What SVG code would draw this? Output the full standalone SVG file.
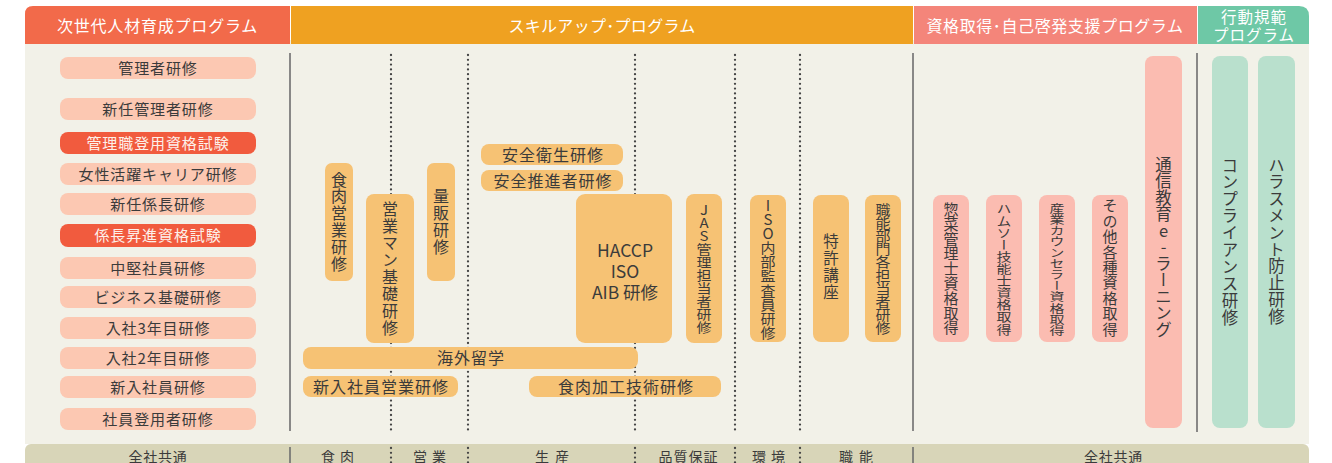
<svg xmlns="http://www.w3.org/2000/svg" width="1332" height="463" viewBox="0 0 1332 463">
<style>
text{font-family:"Noto Sans CJK JP","Noto Sans",sans-serif;fill:#3b3b3b}
.hd{fill:#fff;font-size:16px;text-anchor:middle}
.lp{fill:#fcc8b2}
.rp{fill:#f15b3e}
.or{fill:#f6c274}
.pk{fill:#fbbcb1}
.gr{fill:#b9e0cd}
.lt{font-size:15px;letter-spacing:0.9px;text-anchor:middle}
.wt{fill:#fdf0ea}
.ot{font-size:16px;letter-spacing:1px;text-anchor:middle}
.v{writing-mode:vertical-rl;text-orientation:upright;text-anchor:middle}
.vs{writing-mode:vertical-rl;text-orientation:upright;text-anchor:start}
.solid{stroke:#6e6e6e;stroke-width:1.6;fill:none}
.dot{stroke:#444;stroke-width:2.3;stroke-linecap:round;stroke-dasharray:0 4.8;fill:none}
.bt{font-size:14px;text-anchor:middle}
</style>
<rect x="0" y="0" width="1332" height="463" fill="#ffffff"/>
<!-- panel -->
<rect x="25" y="40" width="1284" height="404" fill="#f2f1e8"/>
<rect x="25" y="444" width="1284" height="30" rx="6" fill="#d8d5b8"/>
<!-- headers -->
<g id="header-jisedai">
<path d="M25,44 V14 Q25,6 33,6 H290 V44 Z" fill="#f26a4a"/>
<text class="hd" x="157.5" y="32" style="letter-spacing:0.8px">次世代人材育成プログラム</text>
</g>
<g id="header-skillup">
<rect x="291" y="6" width="622" height="38" fill="#efa121"/>
<text class="hd" x="602" y="32" style="letter-spacing:0.3px">スキルアップ･プログラム</text>
</g>
<g id="header-shikaku">
<rect x="914" y="6" width="283" height="38" fill="#f4857a"/>
<text class="hd" x="1055" y="32" style="letter-spacing:0.6px">資格取得･自己啓発支援プログラム</text>
</g>
<g id="header-kodo">
<path d="M1198,6 H1299 Q1309,6 1309,16 V44 H1198 Z" fill="#6ec8a6"/>
<text class="hd" x="1254" y="23" style="font-size:15.5px;letter-spacing:1px">行動規範</text>
<text class="hd" x="1254" y="40.5" style="font-size:15.5px;letter-spacing:1px">プログラム</text>
</g>
<!-- connectors / divider lines -->
<g id="connectors">
<line class="solid" x1="290" y1="53" x2="290" y2="431"/>
<line class="solid" x1="913" y1="53" x2="913" y2="431"/>
<line class="solid" x1="1197" y1="53" x2="1197" y2="432"/>
<line class="dot" x1="391" y1="55" x2="391" y2="431"/>
<line class="dot" x1="468" y1="55" x2="468" y2="431"/>
<line class="dot" x1="635" y1="55" x2="635" y2="431"/>
<line class="dot" x1="735" y1="55" x2="735" y2="431"/>
<line class="dot" x1="800" y1="55" x2="800" y2="431"/>
<line class="solid" x1="290" y1="447" x2="290" y2="463"/>
<line class="solid" x1="913" y1="447" x2="913" y2="463"/>
<line class="dot" x1="391" y1="448" x2="391" y2="463"/>
<line class="dot" x1="468" y1="448" x2="468" y2="463"/>
<line class="dot" x1="635" y1="448" x2="635" y2="463"/>
<line class="dot" x1="735" y1="448" x2="735" y2="463"/>
<line class="dot" x1="800" y1="448" x2="800" y2="463"/>
</g>
<!-- left column -->
<g id="n-kanrisha"><rect class="lp" x="60" y="57" width="196" height="22" rx="8"/><text class="lt" x="158" y="73.7">管理者研修</text></g>
<g id="n-shinnin-kanrisha"><rect class="lp" x="60" y="98" width="196" height="22" rx="8"/><text class="lt" x="158" y="114.7">新任管理者研修</text></g>
<g id="n-kanrishoku-shiken"><rect class="rp" x="60" y="132" width="196" height="22" rx="8"/><text class="lt wt" x="158" y="148.7">管理職登用資格試験</text></g>
<g id="n-josei"><rect class="lp" x="60" y="163" width="196" height="22" rx="8"/><text class="lt" x="158" y="179.7">女性活躍キャリア研修</text></g>
<g id="n-shinnin-kakaricho"><rect class="lp" x="60" y="193" width="196" height="22" rx="8"/><text class="lt" x="158" y="209.7">新任係長研修</text></g>
<g id="n-kakaricho-shiken"><rect class="rp" x="60" y="224" width="196" height="23" rx="8"/><text class="lt wt" x="158" y="241.2">係長昇進資格試験</text></g>
<g id="n-chuken"><rect class="lp" x="60" y="257" width="196" height="22" rx="8"/><text class="lt" x="158" y="273.7">中堅社員研修</text></g>
<g id="n-business"><rect class="lp" x="60" y="286" width="196" height="22" rx="8"/><text class="lt" x="158" y="302.7">ビジネス基礎研修</text></g>
<g id="n-3nen"><rect class="lp" x="60" y="317" width="196" height="22" rx="8"/><text class="lt" x="158" y="333.7">入社3年目研修</text></g>
<g id="n-2nen"><rect class="lp" x="60" y="347" width="196" height="22" rx="8"/><text class="lt" x="158" y="363.7">入社2年目研修</text></g>
<g id="n-shinnyu"><rect class="lp" x="60" y="376" width="196" height="22" rx="8"/><text class="lt" x="158" y="392.7">新入社員研修</text></g>
<g id="n-toyosha"><rect class="lp" x="60" y="408" width="196" height="22" rx="8"/><text class="lt" x="158" y="424.7">社員登用者研修</text></g>
<!-- skill up -->
<g id="n-shokuniku-eigyo"><rect class="or" x="325" y="163" width="28" height="118" rx="7"/><text class="v" x="339" y="222" style="font-size:16px;letter-spacing:0.8px">食肉営業研修</text></g>
<g id="n-eigyoman"><rect class="or" x="366" y="194" width="48" height="149" rx="8"/><text class="v" x="390" y="269" style="font-size:16px;letter-spacing:0.9px">営業マン基礎研修</text></g>
<g id="n-ryohan"><rect class="or" x="427" y="163" width="28" height="118" rx="7"/><text class="v" x="441" y="222" style="font-size:16px;letter-spacing:1px">量販研修</text></g>
<g id="n-anzen-eisei"><rect class="or" x="481" y="144" width="142" height="21" rx="8"/><text class="ot" x="553" y="160.6">安全衛生研修</text></g>
<g id="n-anzen-suishin"><rect class="or" x="481" y="170" width="142" height="21" rx="8"/><text class="ot" x="553" y="186.6">安全推進者研修</text></g>
<g id="n-haccp"><rect class="or" x="576" y="194" width="96" height="149" rx="9"/>
<text x="625" y="257" style="font-size:17.5px;text-anchor:middle">HACCP</text>
<text x="625" y="278" style="font-size:17.5px;text-anchor:middle">ISO</text>
<text x="625" y="299" style="font-size:17.5px;text-anchor:middle">AIB 研修</text></g>
<g id="n-jas"><rect class="or" x="686" y="194" width="36" height="149" rx="8"/><text class="v" transform="translate(704,268.5) scale(1,0.867)" x="0" y="0" style="font-size:15px">JAS管理担当者研修</text></g>
<g id="n-iso-naibu"><rect class="or" x="750" y="195" width="36" height="147" rx="8"/><text class="v" transform="translate(768,269) scale(1,0.947)" x="0" y="0" style="font-size:15px">ISO内部監査員研修</text></g>
<g id="n-tokkyo"><rect class="or" x="813" y="195" width="36" height="147" rx="8"/><text class="v" x="831" y="267" style="font-size:15.5px;letter-spacing:1.5px">特許講座</text></g>
<g id="n-shokuno"><rect class="or" x="865" y="195" width="36" height="147" rx="8"/><text class="v" transform="translate(883,269) scale(1,0.88)" x="0" y="0" style="font-size:15px">職能部門各担当者研修</text></g>
<g id="n-kaigai"><rect class="or" x="303" y="347" width="335" height="22" rx="8"/><text class="ot" x="471" y="364">海外留学</text></g>
<g id="n-shinnyu-eigyo"><rect class="or" x="303" y="376" width="155" height="21" rx="8"/><text class="ot" x="381" y="392.6">新入社員営業研修</text></g>
<g id="n-kako"><rect class="or" x="529" y="376" width="192" height="21" rx="8"/><text class="ot" x="626" y="392.6">食肉加工技術研修</text></g>
<!-- shikaku -->
<g id="n-sozai"><rect class="pk" x="933" y="195" width="36" height="147" rx="8"/><text class="v" x="951" y="268.5" style="font-size:15px;letter-spacing:-0.2px">惣菜管理士資格取得</text></g>
<g id="n-hamuso"><rect class="pk" x="986" y="195" width="36" height="147" rx="8"/><text class="v" transform="translate(1004,269.5) scale(1,0.807)" x="0" y="0" style="font-size:15px">ハムソー技能士資格取得</text></g>
<g id="n-counselor"><rect class="pk" x="1039" y="195" width="36" height="147" rx="8"/><text class="v" transform="translate(1057,269.5) scale(1,0.74)" x="0" y="0" style="font-size:15px">産業カウンセラー資格取得</text></g>
<g id="n-sonota"><rect class="pk" x="1092" y="195" width="36" height="147" rx="8"/><text class="v" x="1110" y="267.5" style="font-size:15px;letter-spacing:0.4px">その他各種資格取得</text></g>
<g id="n-tsushin"><rect class="pk" x="1145" y="56" width="37" height="372" rx="8"/><text class="vs" x="1163.5" y="156" style="font-size:16.5px">通信教育e-ラーニング</text></g>
<!-- kodo -->
<g id="n-compliance"><rect class="gr" x="1212" y="56" width="36" height="372" rx="8"/><text class="vs" x="1230" y="157" style="font-size:16.5px;letter-spacing:0.4px">コンプライアンス研修</text></g>
<g id="n-harassment"><rect class="gr" x="1258" y="56" width="37" height="372" rx="8"/><text class="vs" x="1276.5" y="157" style="font-size:16.5px;letter-spacing:0.3px">ハラスメント防止研修</text></g>
<!-- bottom labels -->
<g id="bottom-labels">
<text class="bt" x="158" y="462" style="letter-spacing:0.7px">全社共通</text>
<text class="bt" x="340" y="462" style="letter-spacing:5px">食肉</text>
<text class="bt" x="432" y="462" style="letter-spacing:5px">営業</text>
<text class="bt" x="555" y="462" style="letter-spacing:6px">生産</text>
<text class="bt" x="688.5" y="462" style="letter-spacing:1px">品質保証</text>
<text class="bt" x="771" y="462" style="letter-spacing:5px">環境</text>
<text class="bt" x="859" y="462" style="letter-spacing:6px">職能</text>
<text class="bt" x="1113.5" y="462" style="letter-spacing:0.7px">全社共通</text>
</g>
</svg>
